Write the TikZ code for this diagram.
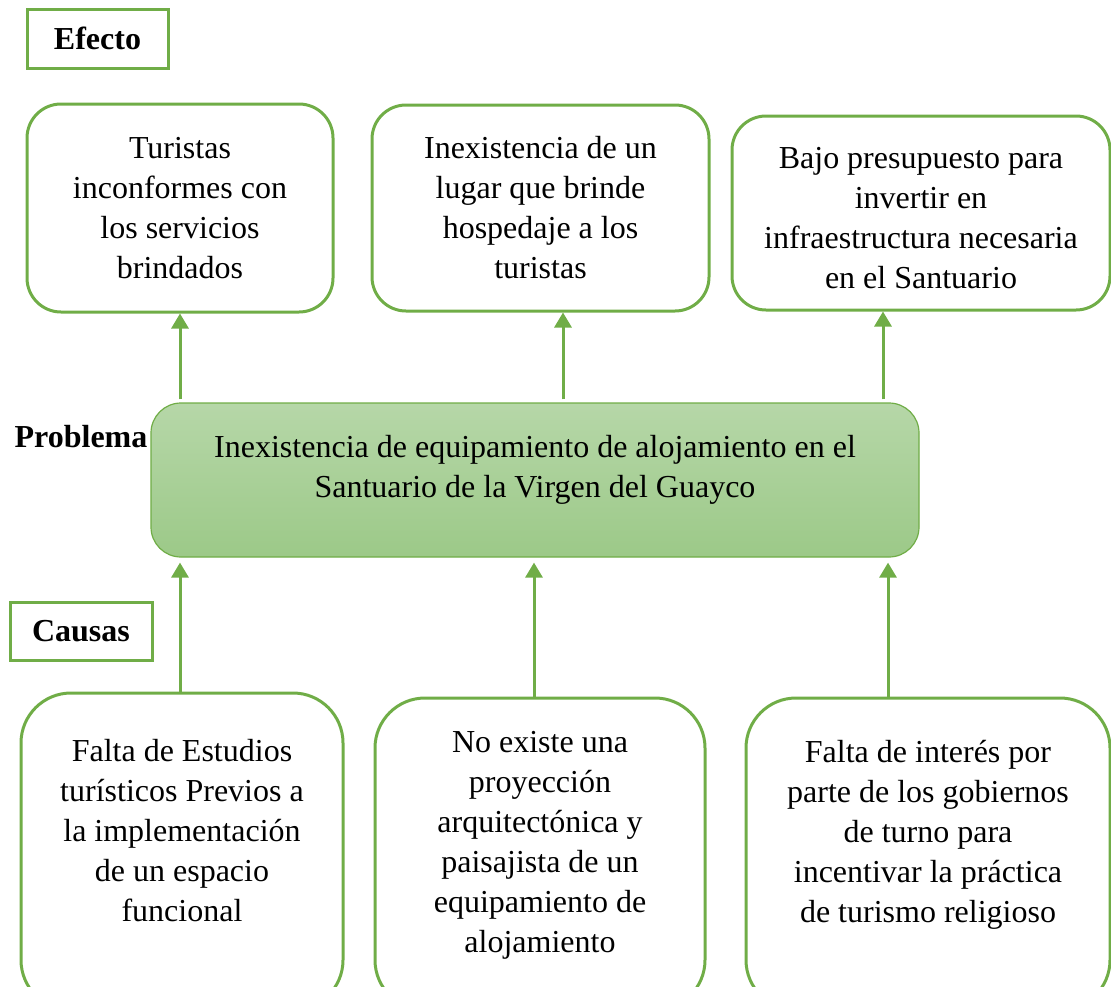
\documentclass[tikz,border=0pt]{standalone}
\usepackage{fontspec}
\setmainfont{Liberation Serif}
\usetikzlibrary{arrows.meta, positioning, calc}
\definecolor{leafgreen}{RGB}{112, 173, 71}
\definecolor{probtop}{RGB}{182, 215, 168}
\definecolor{probbot}{RGB}{156, 201, 136}

\begin{document}
\begin{tikzpicture}[x=1pt, y=-1pt,
  tag/.style={draw=leafgreen, line width=3pt, inner sep=0pt, font=\fontsize{32}{40}\selectfont\bfseries},
  rbox/.style={draw=leafgreen, line width=3pt, inner sep=0pt},
  txt/.style={align=center, inner sep=0pt, font=\fontsize{32}{40}\selectfont},
  up/.style={draw=leafgreen, line width=3pt, -{Triangle[length=15pt, width=17pt]}}
]
  \useasboundingbox (0,0) rectangle (1111,986);
  \clip (0,0) rectangle (1111,986);

  % labels
  \node[tag, minimum width=141pt, minimum height=59pt] (efecto) at (97.5,38.5) {Efecto};
  \node[tag, minimum width=142pt, minimum height=58pt] (causas) at (81,631) {Causas};
  \node[txt, font=\fontsize{32}{40}\selectfont\bfseries] (problab) at (81,437) {Problema};

  % effects
  \node[rbox, rounded corners=34pt, minimum width=306pt, minimum height=208pt] (e1) at (180,208) {};
  \node[rbox, rounded corners=34pt, minimum width=337pt, minimum height=206pt] (e2) at (540.5,208) {};
  \node[rbox, rounded corners=34pt, minimum width=378pt, minimum height=194pt] (e3) at (921,213) {};
  \node[txt] (e1t) at (e1.center) {Turistas\\inconformes con\\los servicios\\brindados};
  \node[txt] (e2t) at (e2.center) {Inexistencia de un\\lugar que brinde\\hospedaje a los\\turistas};
  \node[txt] (e3t) at ([yshift=-5pt]e3.center) {Bajo presupuesto para\\invertir en\\infraestructura necesaria\\en el Santuario};

  % problem
  \node[draw=leafgreen, line width=1.2pt, rounded corners=30pt, top color=probtop, bottom color=probbot,
        minimum width=768pt, minimum height=154pt, inner sep=0pt] (prob) at (535,480) {};
  \node[txt] (probt) at ([yshift=10pt]prob.center) {Inexistencia de equipamiento de alojamiento en el\\Santuario de la Virgen del Guayco};

  % causes
  \node[rbox, rounded corners=50pt, minimum width=322pt, minimum height=317pt] (c1) at (182,851.5) {};
  \node[rbox, rounded corners=50pt, minimum width=330pt, minimum height=312pt] (c2) at (540,854) {};
  \node[rbox, rounded corners=50pt, minimum width=364pt, minimum height=312pt] (c3) at (928,854) {};
  \node[txt] (c1t) at (182,830.5) {Falta de Estudios\\turísticos Previos a\\la implementación\\de un espacio\\funcional};
  \node[txt] (c2t) at (540,845.5) {No existe una\\proyección\\arquitectónica y\\paisajista de un\\equipamiento de\\alojamiento};
  \node[txt] (c3t) at (928,835) {Falta de interés por\\parte de los gobiernos\\de turno para\\incentivar la práctica\\de turismo religioso};

  % arrows up to effects
  \coordinate (a1) at (e1.south);
  \coordinate (a2) at ([xshift=22.5pt]e2.south);
  \coordinate (a3) at ([xshift=-38pt]e3.south);
  \draw[up] ([yshift=3pt]prob.north -| a1) -- (a1);
  \draw[up] ([yshift=3pt]prob.north -| a2) -- (a2);
  \draw[up] ([yshift=3pt]prob.north -| a3) -- (a3);

  % arrows up from causes
  \coordinate (b1) at ([xshift=-2pt]c1.north);
  \coordinate (b2) at ([xshift=-6pt]c2.north);
  \coordinate (b3) at ([xshift=-40pt]c3.north);
  \draw[up] (b1) -- ([yshift=-5pt]prob.south -| b1);
  \draw[up] (b2) -- ([yshift=-5pt]prob.south -| b2);
  \draw[up] (b3) -- ([yshift=-5pt]prob.south -| b3);
\end{tikzpicture}
\end{document}
